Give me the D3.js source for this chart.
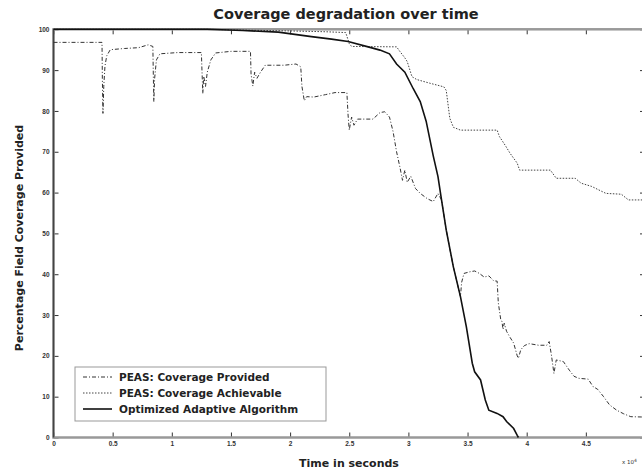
<!DOCTYPE html>
<html>
<head>
<meta charset="utf-8">
<script src="https://cdn.jsdelivr.net/npm/d3@7"></script>
<style>
  body { margin: 0; background: #fff; }
  svg { display: block; font-family: "DejaVu Sans", Verdana, sans-serif; }
</style>
</head>
<body>
<div id="chart"></div>
<script>
// Series: [time (x10^4 s), % coverage]
const peasProvided = [
  [0, 96.8], [0.41, 96.8], [0.413, 88], [0.418, 79.4], [0.425, 86], [0.435, 91], [0.45, 93.5],
  [0.48, 95], [0.6, 95.3], [0.72, 95.5], [0.8, 96.2], [0.84, 95.8], [0.843, 90], [0.848, 82.3],
  [0.855, 88], [0.87, 92.5], [0.9, 94], [1.05, 94.3], [1.25, 94.3], [1.255, 90], [1.262, 84.3],
  [1.27, 88.5], [1.285, 86], [1.3, 89.5], [1.33, 92.5], [1.37, 94.2], [1.5, 94.6], [1.665, 94.6],
  [1.67, 89], [1.685, 86.1], [1.7, 89.5], [1.72, 88], [1.75, 89.5], [1.79, 91.2], [1.95, 91.2],
  [2.05, 91.5], [2.09, 90.8], [2.1, 86], [2.12, 82.5], [2.14, 83.5], [2.2, 83.4], [2.3, 84],
  [2.38, 84.5], [2.48, 84.5], [2.49, 79], [2.5, 75.3], [2.52, 78.5], [2.54, 76.5], [2.57, 78],
  [2.7, 78], [2.76, 79.6], [2.8, 79.8], [2.84, 78.5], [2.87, 75], [2.9, 70], [2.93, 66],
  [2.95, 63], [2.97, 65.5], [2.99, 62.5], [3.02, 64], [3.06, 61], [3.1, 59.8], [3.16, 58.5],
  [3.21, 57.8], [3.25, 59.8], [3.28, 58.2], [3.32, 50.8], [3.38, 41.8], [3.44, 34.5],
  [3.45, 38], [3.47, 40.2], [3.52, 40.6], [3.56, 40.8], [3.6, 40.2], [3.64, 39.3], [3.68, 39.6],
  [3.72, 38.4], [3.75, 38.3], [3.76, 33], [3.78, 29], [3.79, 28.5], [3.8, 26.5], [3.81, 28],
  [3.83, 26], [3.86, 24.5], [3.89, 23.1], [3.92, 20], [3.93, 19.4], [3.95, 21.5], [3.98, 22.5],
  [4.02, 23], [4.1, 22.6], [4.17, 22.6], [4.19, 23.5], [4.21, 20], [4.23, 15.7], [4.25, 19],
  [4.28, 18.8], [4.31, 18.6], [4.36, 16.5], [4.4, 15], [4.44, 14.5], [4.52, 14.3], [4.56, 12.5],
  [4.6, 11.8], [4.65, 10], [4.7, 8], [4.76, 6.7], [4.82, 5.8], [4.88, 5.1], [5.0, 5.0]
];

const peasAchievable = [
  [0, 100], [1.3, 100], [1.6, 99.8], [2.0, 99.6], [2.3, 99.4], [2.47, 99.2], [2.5, 96.5],
  [2.52, 95.8], [2.9, 95.7], [2.93, 94.5], [2.97, 93], [2.99, 92.1], [3.03, 88.4], [3.07, 87.7],
  [3.18, 86.8], [3.3, 85.9], [3.32, 85], [3.35, 78.2], [3.38, 76], [3.44, 75.3], [3.75, 75.3],
  [3.77, 73.7], [3.82, 71.5], [3.86, 69.6], [3.92, 67.2], [3.94, 65.5], [4.2, 65.5], [4.25, 63.5],
  [4.41, 63.5], [4.46, 62.3], [4.55, 61.5], [4.62, 60.5], [4.67, 59.8], [4.8, 59.6], [4.86, 58.2],
  [5.0, 58.2]
];

const optimized = [
  [0, 100], [1.3, 100], [1.6, 99.7], [1.9, 99.3], [2.18, 98.2], [2.35, 97.6], [2.49, 97],
  [2.66, 95.7], [2.76, 94.9], [2.84, 94], [2.9, 91.5], [2.97, 89.5], [3.04, 85.5], [3.1, 82.3],
  [3.15, 77.5], [3.21, 69], [3.25, 63.9], [3.28, 58.2], [3.32, 50.8], [3.38, 41.8], [3.44, 34.5],
  [3.49, 27.1], [3.54, 18.2], [3.56, 16.1], [3.61, 14.1], [3.65, 9.2], [3.68, 6.7], [3.75, 5.9],
  [3.8, 5.1], [3.83, 3.9], [3.89, 2.2], [3.92, 0.5], [3.93, 0]
];

// the 5 tick sits just past the picture's right edge, so it is left out
const xTicks = [0, 0.5, 1, 1.5, 2, 2.5, 3, 3.5, 4, 4.5];
const yTicks = [0, 10, 20, 30, 40, 50, 60, 70, 80, 90, 100];
const legendLabels = ['PEAS: Coverage Provided', 'PEAS: Coverage Achievable', 'Optimized Adaptive Algorithm'];

const width = 642, height = 474;
const plot = { left: 53.5, top: 29.3, right: 645, bottom: 437.5 };

const svg = d3.select('#chart').append('svg')
  .attr('width', width)
  .attr('height', height);

const x = d3.scaleLinear().domain([0, 5]).range([plot.left, plot.right]);
const y = d3.scaleLinear().domain([0, 100]).range([plot.bottom, plot.top]);

// Axes with inward ticks on all four sides
const tickStyle = g => {
  g.select('.domain').remove();
  g.selectAll('.tick line').attr('stroke', '#333');
  g.selectAll('.tick text').attr('fill', '#333').style('font-size', '6.5px').style('font-weight', 'bold');
};

svg.append('g')
  .attr('transform', `translate(0,${plot.bottom})`)
  .call(d3.axisBottom(x).tickValues(xTicks).tickSizeInner(-5).tickSizeOuter(0).tickPadding(4).tickFormat(d3.format('')))
  .call(tickStyle);

svg.append('g')
  .attr('transform', `translate(0,${plot.top})`)
  .call(d3.axisTop(x).tickValues(xTicks).tickSizeInner(-5).tickSizeOuter(0).tickFormat(''))
  .call(tickStyle);

svg.append('g')
  .attr('transform', `translate(${plot.left},0)`)
  .call(d3.axisLeft(y).tickValues(yTicks).tickSizeInner(-5).tickSizeOuter(0).tickPadding(4))
  .call(tickStyle);

svg.append('g')
  .attr('transform', `translate(${plot.right},0)`)
  .call(d3.axisRight(y).tickValues(yTicks).tickSizeInner(-5).tickSizeOuter(0).tickFormat(''))
  .call(tickStyle);

// frame
svg.append('rect')
  .attr('x', plot.left).attr('y', plot.top)
  .attr('width', plot.right - plot.left).attr('height', plot.bottom - plot.top)
  .attr('fill', 'none').attr('stroke', '#999').attr('stroke-width', 2.5);
svg.append('line')
  .attr('x1', plot.left).attr('x2', plot.left)
  .attr('y1', plot.top).attr('y2', plot.bottom)
  .attr('stroke', '#444').attr('stroke-width', 1.5);

// lines
const line = d3.line().x(d => x(d[0])).y(d => y(d[1]));
const styles = [
  { data: peasProvided, dash: '4,2,1,2', width: 1, color: '#333' },
  { data: peasAchievable, dash: '1.5,1.5', width: 1, color: '#444' },
  { data: optimized, dash: null, width: 1.6, color: '#111' }
];

styles.forEach(s => {
  svg.append('path')
    .datum(s.data)
    .attr('d', line)
    .attr('fill', 'none')
    .attr('stroke', s.color)
    .attr('stroke-width', s.width)
    .attr('stroke-dasharray', s.dash);
});

// titles
svg.append('text')
  .attr('x', 346).attr('y', 19)
  .attr('text-anchor', 'middle')
  .style('font-size', '14.5px').style('font-weight', 'bold').attr('fill', '#222')
  .text('Coverage degradation over time');

svg.append('text')
  .attr('x', 349).attr('y', 467)
  .attr('text-anchor', 'middle')
  .style('font-size', '11px').style('font-weight', 'bold').attr('fill', '#222')
  .text('Time in seconds');

svg.append('text')
  .attr('transform', `translate(23,238) rotate(-90)`)
  .attr('text-anchor', 'middle')
  .style('font-size', '11px').style('font-weight', 'bold').attr('fill', '#222')
  .text('Percentage Field Coverage Provided');

// x10^4 multiplier
const mult = svg.append('text')
  .attr('x', 622).attr('y', 464)
  .style('font-size', '5.5px').attr('fill', '#333');
mult.append('tspan').text('x 10');
mult.append('tspan').attr('dy', -2.5).style('font-size', '4.5px').text('4');

// legend
const legend = svg.append('g').attr('transform', 'translate(75,367)');
legend.append('rect')
  .attr('width', 251).attr('height', 54)
  .attr('fill', '#fff').attr('stroke', '#999').attr('stroke-width', 1);

legendLabels.forEach((label, i) => {
  const yy = 10 + i * 16;
  legend.append('line')
    .attr('x1', 8).attr('x2', 37).attr('y1', yy).attr('y2', yy)
    .attr('stroke', styles[i].color)
    .attr('stroke-width', styles[i].width)
    .attr('stroke-dasharray', styles[i].dash);
  legend.append('text')
    .attr('x', 44).attr('y', yy + 4)
    .style('font-size', '10.5px').style('font-weight', 'bold').attr('fill', '#222')
    .text(label);
});
</script>
</body>
</html>
